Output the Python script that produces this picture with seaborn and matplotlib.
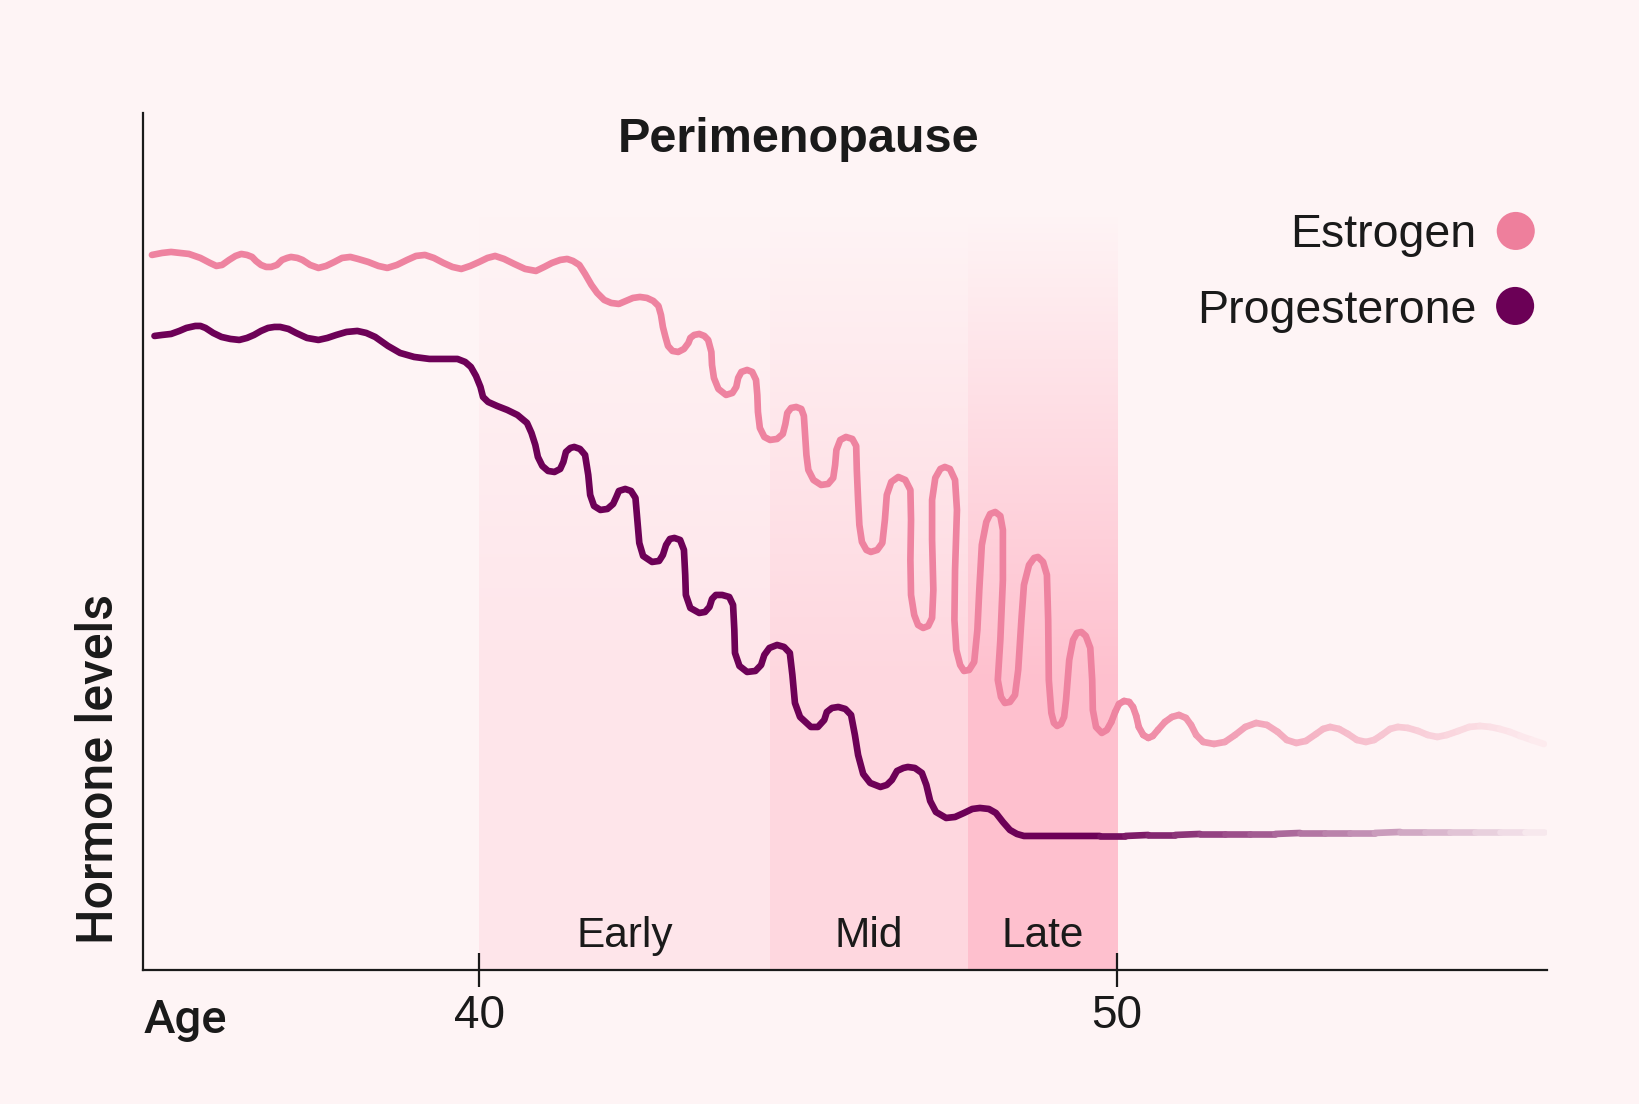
import numpy as np
import matplotlib
matplotlib.use("Agg")
import matplotlib.pyplot as plt
from matplotlib.collections import LineCollection
from matplotlib.colors import to_rgb
import seaborn as sns

# curves: age in years, hormone level in arbitrary units
estrogen_age = [
    34.87, 35.03, 35.17, 35.31, 35.45, 35.63, 35.78, 35.88, 35.97, 36.08,
    36.18, 36.27, 36.36, 36.44, 36.50, 36.58, 36.66, 36.74, 36.83, 36.91,
    36.99, 37.05, 37.15, 37.23, 37.35, 37.48, 37.60, 37.73, 37.85, 37.98,
    38.10, 38.26, 38.42, 38.56, 38.71, 38.87, 39.01, 39.15, 39.29, 39.44,
    39.58, 39.72, 39.86, 40.00, 40.13, 40.25, 40.39, 40.55, 40.72, 40.89,
    41.02, 41.14, 41.27, 41.38, 41.47, 41.57, 41.66, 41.76, 41.85, 41.96,
    42.07, 42.19, 42.30, 42.41, 42.52, 42.63, 42.73, 42.81, 42.85, 42.88,
    42.92, 42.96, 43.03, 43.12, 43.21, 43.28, 43.31, 43.37, 43.45, 43.53,
    43.59, 43.64, 43.65, 43.68, 43.75, 43.87, 43.97, 44.03, 44.06, 44.11,
    44.20, 44.28, 44.34, 44.36, 44.37, 44.40, 44.47, 44.56, 44.67, 44.76,
    44.80, 44.83, 44.89, 44.97, 45.05, 45.09, 45.11, 45.13, 45.16, 45.24,
    45.36, 45.47, 45.55, 45.58, 45.60, 45.66, 45.75, 45.85, 45.91, 45.92,
    45.94, 45.96, 46.00, 46.07, 46.14, 46.24, 46.32, 46.36, 46.39, 46.46,
    46.57, 46.68, 46.76, 46.77, 46.76, 46.77, 46.82, 46.88, 46.96, 47.04,
    47.10, 47.12, 47.10, 47.10, 47.15, 47.23, 47.30, 47.38, 47.46, 47.49,
    47.46, 47.45, 47.48, 47.54, 47.60, 47.68, 47.76, 47.81, 47.84, 47.88,
    47.95, 48.01, 48.09, 48.17, 48.21, 48.21, 48.17, 48.13, 48.18, 48.24,
    48.32, 48.40, 48.45, 48.50, 48.54, 48.62, 48.70, 48.76, 48.84, 48.90,
    48.92, 48.93, 48.97, 49.01, 49.06, 49.12, 49.17, 49.20, 49.25, 49.31,
    49.37, 49.44, 49.51, 49.58, 49.61, 49.62, 49.67, 49.76, 49.84, 49.91,
    49.97, 50.03, 50.11, 50.19, 50.25, 50.30, 50.34, 50.41, 50.49, 50.56,
    50.64, 50.75, 50.86, 50.97, 51.08, 51.16, 51.24, 51.35, 51.52, 51.69,
    51.85, 52.01, 52.18, 52.35, 52.52, 52.66, 52.81, 52.96, 53.12, 53.23,
    53.34, 53.48, 53.62, 53.76, 53.90, 54.03, 54.15, 54.28, 54.40, 54.56,
    54.72, 54.87, 55.02, 55.17, 55.35, 55.52, 55.69, 55.85, 56.00, 56.16,
    56.32, 56.50, 56.69,
]
estrogen_level = [
    71.5, 71.7, 71.8, 71.7, 71.6, 71.2, 70.7, 70.4, 70.5, 71.0,
    71.4, 71.6, 71.5, 71.3, 70.9, 70.5, 70.3, 70.3, 70.5, 71.0,
    71.2, 71.3, 71.2, 71.0, 70.5, 70.2, 70.4, 70.8, 71.2, 71.3,
    71.1, 70.8, 70.4, 70.2, 70.5, 71.0, 71.4, 71.5, 71.2, 70.7,
    70.3, 70.1, 70.4, 70.8, 71.2, 71.4, 71.1, 70.6, 70.1, 69.9,
    70.3, 70.7, 71.0, 71.1, 70.9, 70.5, 69.6, 68.5, 67.7, 67.0,
    66.7, 66.6, 66.9, 67.2, 67.3, 67.2, 66.9, 66.4, 65.5, 64.3,
    63.3, 62.4, 61.9, 61.8, 62.1, 62.7, 63.2, 63.5, 63.6, 63.4,
    63.0, 61.8, 60.5, 59.2, 58.1, 57.5, 57.7, 58.3, 59.2, 59.8,
    60.0, 59.8, 59.0, 57.5, 55.8, 54.2, 53.3, 53.0, 53.1, 53.6,
    54.6, 55.7, 56.2, 56.3, 56.1, 55.4, 53.5, 51.5, 50.0, 49.0,
    48.5, 48.6, 49.2, 50.5, 52.0, 53.0, 53.3, 53.1, 52.4, 50.0,
    47.0, 44.5, 42.8, 42.0, 41.8, 42.0, 42.7, 45.0, 47.5, 48.8,
    49.3, 49.0, 48.0, 45.0, 41.0, 37.5, 35.5, 34.5, 34.2, 34.4,
    35.2, 38.0, 43.0, 47.0, 49.2, 50.1, 50.3, 50.1, 49.0, 46.0,
    40.0, 35.0, 32.0, 30.5, 29.9, 30.0, 30.8, 34.0, 38.0, 42.5,
    44.8, 45.6, 45.8, 45.4, 44.0, 39.0, 33.0, 29.0, 27.3, 26.7,
    26.8, 27.5, 30.0, 35.0, 38.5, 40.5, 41.2, 41.3, 40.8, 39.5,
    35.0, 29.0, 25.7, 24.7, 24.4, 24.6, 25.3, 27.0, 31.0, 33.0,
    33.7, 33.8, 33.4, 32.2, 29.0, 26.0, 24.3, 23.7, 24.0, 24.8,
    25.8, 26.6, 26.9, 26.8, 26.3, 25.4, 24.3, 23.5, 23.2, 23.4,
    24.0, 24.8, 25.3, 25.5, 25.2, 24.5, 23.5, 22.8, 22.6, 22.8,
    23.5, 24.3, 24.7, 24.5, 23.8, 23.0, 22.7, 22.9, 23.6, 24.1,
    24.3, 24.1, 23.6, 23.0, 22.8, 23.0, 23.5, 24.1, 24.3, 24.2,
    23.9, 23.5, 23.3, 23.5, 23.9, 24.3, 24.4, 24.3, 24.1, 23.8,
    23.4, 23.0, 22.6,
]

progesterone_age = [
    34.91, 35.03, 35.17, 35.30, 35.41, 35.55, 35.63, 35.71, 35.83, 35.96,
    36.10, 36.24, 36.36, 36.47, 36.58, 36.69, 36.79, 36.88, 37.01, 37.13,
    37.30, 37.48, 37.62, 37.76, 37.92, 38.09, 38.23, 38.37, 38.57, 38.76,
    38.98, 39.22, 39.44, 39.66, 39.78, 39.87, 39.95, 40.02, 40.06, 40.14,
    40.28, 40.44, 40.60, 40.75, 40.82, 40.88, 40.92, 40.99, 41.08, 41.18,
    41.27, 41.32, 41.36, 41.43, 41.49, 41.58, 41.66, 41.71, 41.74, 41.80,
    41.90, 42.01, 42.10, 42.15, 42.19, 42.29, 42.38, 42.45, 42.48, 42.51,
    42.57, 42.71, 42.82, 42.88, 42.93, 42.99, 43.06, 43.15, 43.21, 43.23,
    43.24, 43.31, 43.45, 43.54, 43.61, 43.65, 43.71, 43.81, 43.92, 43.98,
    44.00, 44.01, 44.08, 44.20, 44.33, 44.42, 44.47, 44.55, 44.67, 44.78,
    44.87, 44.91, 44.95, 45.03, 45.20, 45.31, 45.41, 45.45, 45.53, 45.63,
    45.74, 45.83, 45.89, 45.94, 46.02, 46.13, 46.29, 46.39, 46.47, 46.55,
    46.65, 46.72, 46.83, 46.94, 47.01, 47.07, 47.16, 47.32, 47.46, 47.60,
    47.73, 47.85, 47.99, 48.10, 48.21, 48.32, 48.43, 48.54, 48.79, 49.11,
    49.42, 49.73, 50.13, 50.49, 50.91, 51.30, 51.69, 52.08, 52.48, 52.87,
    53.26, 53.65, 54.04, 54.44, 54.83, 55.22, 55.61, 56.00, 56.39, 56.69,
]
progesterone_level = [
    63.4, 63.5, 63.6, 63.9, 64.2, 64.4, 64.4, 64.2, 63.7, 63.3,
    63.1, 63.0, 63.2, 63.5, 63.9, 64.2, 64.3, 64.3, 64.1, 63.7,
    63.2, 63.0, 63.2, 63.5, 63.8, 63.9, 63.7, 63.3, 62.4, 61.7,
    61.3, 61.1, 61.1, 61.1, 60.8, 60.3, 59.4, 58.3, 57.3, 56.8,
    56.4, 56.0, 55.5, 54.7, 53.7, 52.5, 51.3, 50.4, 49.9, 49.8,
    50.1, 50.8, 51.8, 52.2, 52.3, 52.1, 51.5, 49.5, 47.5, 46.4,
    46.0, 46.1, 46.6, 47.3, 47.9, 48.1, 47.9, 47.2, 45.0, 42.7,
    41.4, 40.8, 40.9, 41.5, 42.5, 43.1, 43.2, 43.0, 42.0, 39.5,
    37.5, 36.2, 35.7, 35.8, 36.3, 37.1, 37.5, 37.5, 37.3, 36.5,
    34.0, 31.7, 30.4, 29.8, 29.9, 30.5, 31.5, 32.2, 32.5, 32.3,
    31.7, 29.5, 26.7, 25.3, 24.3, 24.3, 25.0, 25.8, 26.2, 26.3,
    26.1, 25.5, 23.5, 21.5, 19.6, 18.7, 18.3, 18.5, 19.0, 19.9,
    20.2, 20.3, 20.2, 19.7, 18.5, 16.9, 15.8, 15.2, 15.3, 15.7,
    16.1, 16.2, 16.1, 15.7, 14.8, 14.0, 13.6, 13.4, 13.4, 13.4,
    13.4, 13.4, 13.4, 13.5, 13.5, 13.6, 13.6, 13.6, 13.6, 13.7,
    13.7, 13.7, 13.7, 13.8, 13.8, 13.8, 13.8, 13.8, 13.8, 13.8,
]

stage_names = ["Early", "Mid", "Late"]
stage_start = [40, 44.56, 47.66]
stage_end = [44.56, 47.66, 50]
age_ticks = [40, 50]

BG = "#fef4f5"
INK = "#1a1a1a"
EST_COLOR = "#ee83a0"
PRO_COLOR = "#6d0157"
stage_colors = ["#fee5ea", "#fed7df", "#fec0ce"]
LW = 4.8

sns.set_theme(style="white")
plt.rcParams["font.family"] = ["Liberation Sans", "DejaVu Sans"]

fig = plt.figure(figsize=(16.4, 11.04), dpi=100, facecolor=BG)
ax = fig.add_axes([0.0872, 0.1214, 0.8561, 0.7763])
ax.set_facecolor(BG)

# stage bands, fading out towards the top
band_top = 75.5
rows = np.linspace(band_top, 0, 600)
fade = np.clip((band_top - rows) / (band_top - 29), 0, 1)
for s0, s1, col in zip(stage_start, stage_end, stage_colors):
    img = np.zeros((len(rows), 2, 4))
    img[:, :, :3] = to_rgb(col)
    img[:, :, 3] = fade[:, None]
    ax.imshow(img, extent=(s0, s1, 0, band_top), aspect="auto",
              origin="upper", interpolation="nearest", zorder=0)


def draw_curve(ages, levels, color, fade_from, fade_to, fade_max):
    ages = np.asarray(ages)
    levels = np.asarray(levels)
    k = int(np.argmax(ages >= fade_from))
    sns.lineplot(x=ages[:k + 1], y=levels[:k + 1], sort=False, estimator=None,
                 color=color, linewidth=LW, solid_capstyle="round",
                 solid_joinstyle="round", ax=ax, zorder=3)
    # tail fades into the background
    pts = np.column_stack([ages[k:], levels[k:]])
    segs = np.stack([pts[:-1], pts[1:]], axis=1)
    mid = (pts[:-1, 0] + pts[1:, 0]) / 2
    t = np.clip((mid - fade_from) / (fade_to - fade_from), 0, 1) * fade_max
    c0 = np.array(to_rgb(color))
    cb = np.array(to_rgb(BG))
    cols = c0[None, :] * (1 - t[:, None]) + cb[None, :] * t[:, None]
    ax.add_collection(LineCollection(segs, colors=cols, linewidths=LW,
                                     capstyle="round", joinstyle="round",
                                     zorder=3))


draw_curve(progesterone_age, progesterone_level, PRO_COLOR, 49.5, 56.69, 0.97)
draw_curve(estrogen_age, estrogen_level, EST_COLOR, 49.9, 57.2, 1.0)

ax.set_xlim(34.73, 56.74)
ax.set_ylim(0, 85.7)

# stage labels
for s0, s1, name in zip(stage_start, stage_end, stage_names):
    ax.text((s0 + s1) / 2, 2.3, name, ha="center", va="baseline",
            fontsize=30.5, color=INK, zorder=4)

ax.text(45.0, 81.8, "Perimenopause", ha="center", va="baseline",
        fontsize=35, fontweight="bold", color=INK)

# legend on the right
ax.text(55.63, 72.3, "Estrogen", ha="right", va="baseline", fontsize=33.5, color=INK)
ax.text(55.63, 64.7, "Progesterone", ha="right", va="baseline", fontsize=33.5, color=INK)
ax.scatter([56.25, 56.24], [73.9, 66.4], s=27.4 ** 2, c=["#ee7f9c", "#6b0056"],
           edgecolors="none", clip_on=False, zorder=4)

ax.set_xticks(age_ticks)
ax.set_xticklabels([str(a) for a in age_ticks])
ax.set_yticks([])
ax.tick_params(axis="x", bottom=True, direction="inout", length=24, width=1.6,
               pad=5, labelsize=33, colors=INK)
sns.despine(ax=ax)
for side in ["left", "bottom"]:
    ax.spines[side].set_linewidth(1.6)
    ax.spines[side].set_color(INK)
ax.set_xlabel("")
ax.set_ylabel("")

fig.text(99 / 1640, 1 - 769 / 1104, "Hormone levels", rotation=90,
         ha="center", va="center", fontsize=36, fontweight="medium",
         family=["Roboto", "DejaVu Sans"], color=INK)
fig.text(144 / 1640, 1 - 1033 / 1104, "Age", ha="left", va="baseline",
         fontsize=34, fontweight="medium", family=["Roboto", "DejaVu Sans"],
         color=INK)

fig.savefig("out.png", dpi=100, facecolor=BG)
